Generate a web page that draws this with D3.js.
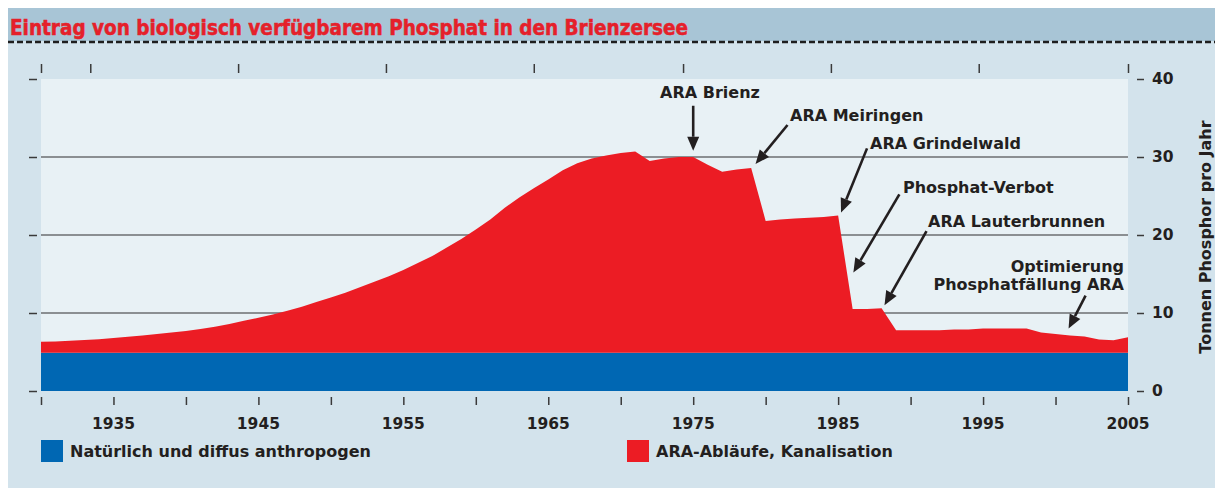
<!DOCTYPE html>
<html>
<head>
<meta charset="utf-8">
<script src="https://cdn.jsdelivr.net/npm/d3@7"></script>
<style>
  html, body { margin: 0; padding: 0; background: #ffffff; }
  svg { display: block; }
</style>
</head>
<body>
<div id="chart"></div>
<script>
// Jahre 1930 - 2005
const years = d3.range(1930, 2006);

// Natürlich und diffus anthropogen (t P / Jahr)
const natural = [
  4.9, 4.9, 4.9, 4.9, 4.9, 4.9, 4.9, 4.9, 4.9, 4.9,
  4.9, 4.9, 4.9, 4.9, 4.9, 4.9, 4.9, 4.9, 4.9, 4.9,
  4.9, 4.9, 4.9, 4.9, 4.9, 4.9, 4.9, 4.9, 4.9, 4.9,
  4.9, 4.9, 4.9, 4.9, 4.9, 4.9, 4.9, 4.9, 4.9, 4.9,
  4.9, 4.9, 4.9, 4.9, 4.9, 4.9, 4.9, 4.9, 4.9, 4.9,
  4.9, 4.9, 4.9, 4.9, 4.9, 4.9, 4.9, 4.9, 4.9, 4.9,
  4.9, 4.9, 4.9, 4.9, 4.9, 4.9, 4.9, 4.9, 4.9, 4.9,
  4.9, 4.9, 4.9, 4.9, 4.9, 4.9
];

// ARA-Abläufe, Kanalisation (t P / Jahr)
const ara = [
  1.4, 1.45, 1.55, 1.65, 1.75, 1.9, 2.05, 2.2, 2.4, 2.6,      // 1930-1939
  2.8, 3.05, 3.35, 3.7, 4.1, 4.5, 4.9, 5.4, 5.9, 6.5,         // 1940-1949
  7.1, 7.7, 8.4, 9.1, 9.8, 10.6, 11.5, 12.4, 13.5, 14.6,      // 1950-1959
  15.8, 17.1, 18.6, 19.9, 21.1, 22.2, 23.4, 24.3, 24.9, 25.3, // 1960-1969
  25.6, 25.8, 24.6, 24.9, 25.1, 25.1, 24.1, 23.2, 23.5, 23.7, // 1970-1979
  16.9, 17.1, 17.2, 17.3, 17.4, 17.6, 5.6, 5.6, 5.7, 2.9,     // 1980-1989
  2.9, 2.9, 2.9, 3.0, 3.0, 3.1, 3.1, 3.1, 3.1, 2.6,           // 1990-1999
  2.4, 2.2, 2.1, 1.7, 1.6, 2.0                                // 2000-2005
];

const seriesKeys = ["natural", "ara"];
const seriesLabels = ["Natürlich und diffus anthropogen", "ARA-Abläufe, Kanalisation"];

const yTicks = [0, 10, 20, 30, 40];
const gridValues = [10, 20, 30];
const xTickYears = [1930, 1935, 1940, 1945, 1950, 1955, 1960, 1965, 1970, 1975, 1980, 1985, 1990, 1995, 2000, 2005];
const xLabelYears = [1935, 1945, 1955, 1965, 1975, 1985, 1995, 2005];
const topTickYears = [1930, 1933.4, 1943.6, 1953.8, 1964.0, 1974.3, 1984.5, 1994.7, 2005];

// Annotationen: Text und Pfeilspitze (Jahr / Wert)
const noteLabels = [
  ["ARA Brienz"],
  ["ARA Meiringen"],
  ["ARA Grindelwald"],
  ["Phosphat-Verbot"],
  ["ARA Lauterbrunnen"],
  ["Optimierung", "Phosphatfällung ARA"]
];
const noteYears = [1975.0, 1979.3, 1985.2, 1986.05, 1988.2, 2000.9];
const noteValues = [30.8, 29.1, 22.9, 15.2, 11.0, 8.0];

//---------------------------------------------------------------------------------------

const graphCfg = {
  target: "#chart",
  title: "Eintrag von biologisch verfügbarem Phosphat in den Brienzersee",
  yTitle: "Tonnen Phosphor pro Jahr",
  width: 1220,
  height: 488,
  font: "'DejaVu Sans', 'Liberation Sans', sans-serif",
  colors: { natural: "#0067b3", ara: "#ec1c24", ink: "#231f20" }
};

// Position der Texte / Pfeile (Pixel)
const noteLayout = [
  { tx: 710, ty: 92, anchor: "middle", dx: 0, dy: -45 },
  { tx: 790, ty: 115, anchor: "start", dx: 32, dy: -39 },
  { tx: 870, ty: 143, anchor: "start", dx: 26, dy: -64 },
  { tx: 903, ty: 187, anchor: "start", dx: 46, dy: -78 },
  { tx: 928, ty: 221, anchor: "start", dx: 42, dy: -74 },
  { tx: 1124, ty: 266, anchor: "end", dx: 17, dy: -33 }
];

const plot = { left: 41, right: 1128, top: 79, bottom: 391 };

const svg = d3.select(graphCfg.target)
  .append("svg")
  .attr("width", graphCfg.width)
  .attr("height", graphCfg.height)
  .attr("viewBox", [0, 0, graphCfg.width, graphCfg.height])
  .style("font-family", graphCfg.font);

// Hintergrund
svg.append("rect")
  .attr("x", 8).attr("y", 8)
  .attr("width", 1207).attr("height", 480)
  .attr("fill", "#d3e3ec");

svg.append("rect")
  .attr("x", 8).attr("y", 8)
  .attr("width", 1207).attr("height", 33)
  .attr("fill", "#a8c5d6");

svg.append("line")
  .attr("x1", 8).attr("x2", 1215)
  .attr("y1", 42).attr("y2", 42)
  .attr("stroke", "#1e1e1e")
  .attr("stroke-width", 2.6)
  .attr("stroke-dasharray", "6,3");

svg.append("text")
  .attr("x", 10).attr("y", 35)
  .attr("fill", "#e5202a")
  .attr("stroke", "#e5202a")
  .attr("stroke-width", 0.5)
  .attr("font-family", "'Liberation Sans Narrow', 'DejaVu Sans Condensed', sans-serif")
  .attr("font-weight", "bold")
  .attr("font-size", 21)
  .attr("textLength", 678)
  .attr("lengthAdjust", "spacingAndGlyphs")
  .text(graphCfg.title);

//---------------------------------------------------------------------------------------

// Skalen
const x = d3.scaleLinear().domain([1930, 2005]).range([plot.left, plot.right]);
const y = d3.scaleLinear().domain([0, 40]).range([plot.bottom, plot.top]);

svg.append("rect")
  .attr("x", plot.left).attr("y", plot.top)
  .attr("width", plot.right - plot.left)
  .attr("height", plot.bottom - plot.top)
  .attr("fill", "#e8f1f5");

// Gitterlinien
svg.append("g")
  .selectAll("line")
  .data(gridValues)
  .join("line")
  .attr("x1", plot.left).attr("x2", plot.right)
  .attr("y1", d => y(d)).attr("y2", d => y(d))
  .attr("stroke", "#6d6e70")
  .attr("stroke-width", 1.5);

// Flächen (gestapelt)
const rows = years.map((yr, i) => ({ year: yr, natural: natural[i], ara: ara[i] }));
const stacked = d3.stack().keys(seriesKeys)(rows);

const area = d3.area()
  .x(d => x(d.data.year))
  .y0(d => y(d[0]))
  .y1(d => y(d[1]));

svg.append("g")
  .selectAll("path")
  .data(stacked)
  .join("path")
  .attr("d", area)
  .attr("fill", d => graphCfg.colors[d.key]);

//---------------------------------------------------------------------------------------

// Achsen
const axisColor = "#3a3a3a";

// Ticks unten
svg.append("g")
  .attr("transform", `translate(0, 397)`)
  .call(d3.axisBottom(x).tickValues(xTickYears).tickSize(8).tickFormat(""))
  .call(g => g.select(".domain").remove())
  .call(g => g.selectAll(".tick line").attr("stroke", axisColor).attr("stroke-width", 1.5));

// Jahreszahlen
svg.append("g")
  .selectAll("text")
  .data(xLabelYears)
  .join("text")
  .attr("x", d => x(d))
  .attr("y", 429)
  .attr("text-anchor", "middle")
  .attr("font-size", 15.5)
  .attr("font-weight", "bold")
  .attr("fill", graphCfg.colors.ink)
  .text(d => d);

// Ticks oben
svg.append("g")
  .attr("transform", `translate(0, 73)`)
  .call(d3.axisTop(x).tickValues(topTickYears).tickSize(9).tickFormat(""))
  .call(g => g.select(".domain").remove())
  .call(g => g.selectAll(".tick line").attr("stroke", axisColor).attr("stroke-width", 1.5));

// Ticks links
svg.append("g")
  .attr("transform", `translate(37, 0)`)
  .call(d3.axisLeft(y).tickValues(yTicks).tickSize(8).tickFormat(""))
  .call(g => g.select(".domain").remove())
  .call(g => g.selectAll(".tick line").attr("stroke", axisColor).attr("stroke-width", 1.5));

// Achse rechts
svg.append("g")
  .attr("transform", `translate(1137, 0)`)
  .call(d3.axisRight(y).tickValues(yTicks).tickSize(7).tickPadding(8))
  .call(g => g.select(".domain").remove())
  .call(g => g.selectAll(".tick line").attr("stroke", axisColor).attr("stroke-width", 1.5))
  .call(g => g.selectAll(".tick text")
    .attr("font-family", graphCfg.font)
    .attr("font-size", 15.5)
    .attr("font-weight", "bold")
    .attr("fill", graphCfg.colors.ink));

svg.append("text")
  .attr("transform", `translate(1211, 237) rotate(-90)`)
  .attr("text-anchor", "middle")
  .attr("font-size", 16)
  .attr("font-weight", "bold")
  .attr("fill", graphCfg.colors.ink)
  .text(graphCfg.yTitle);

//---------------------------------------------------------------------------------------

// Annotationen
const notes = noteLabels.map((lines, i) => ({
  lines,
  tip: [x(noteYears[i]), y(noteValues[i])],
  ...noteLayout[i]
}));

const noteG = svg.append("g").attr("fill", graphCfg.colors.ink);

notes.forEach(n => {
  const t = noteG.append("text")
    .attr("text-anchor", n.anchor)
    .attr("font-size", 16)
    .attr("font-weight", "bold");
  n.lines.forEach((l, j) => {
    t.append("tspan")
      .attr("x", n.tx)
      .attr("y", n.ty + j * 18)
      .attr("dy", "0.36em")
      .text(l);
  });

  // Pfeil
  const [x1, y1] = n.tip;
  const x0 = x1 + n.dx, y0 = y1 + n.dy;
  const ang = Math.atan2(y1 - y0, x1 - x0);
  const headL = 14, headW = 6;
  const bx = x1 - headL * Math.cos(ang), by = y1 - headL * Math.sin(ang);

  noteG.append("line")
    .attr("x1", x0).attr("y1", y0)
    .attr("x2", bx).attr("y2", by)
    .attr("stroke", graphCfg.colors.ink)
    .attr("stroke-width", 2.6);

  noteG.append("path")
    .attr("d", d3.line()([
      [x1, y1],
      [bx + headW * Math.sin(ang), by - headW * Math.cos(ang)],
      [bx - headW * Math.sin(ang), by + headW * Math.cos(ang)]
    ]) + "Z");
});

//---------------------------------------------------------------------------------------

// Legende
const legendX = [41, 627];
const legend = svg.append("g")
  .selectAll("g")
  .data(seriesKeys)
  .join("g")
  .attr("transform", (d, i) => `translate(${legendX[i]}, 440)`);

legend.append("rect")
  .attr("width", 22).attr("height", 22)
  .attr("fill", d => graphCfg.colors[d]);

legend.append("text")
  .attr("x", 29).attr("y", 11)
  .attr("dy", "0.36em")
  .attr("font-size", 16)
  .attr("font-weight", "bold")
  .attr("fill", graphCfg.colors.ink)
  .text((d, i) => seriesLabels[i]);
</script>
</body>
</html>
